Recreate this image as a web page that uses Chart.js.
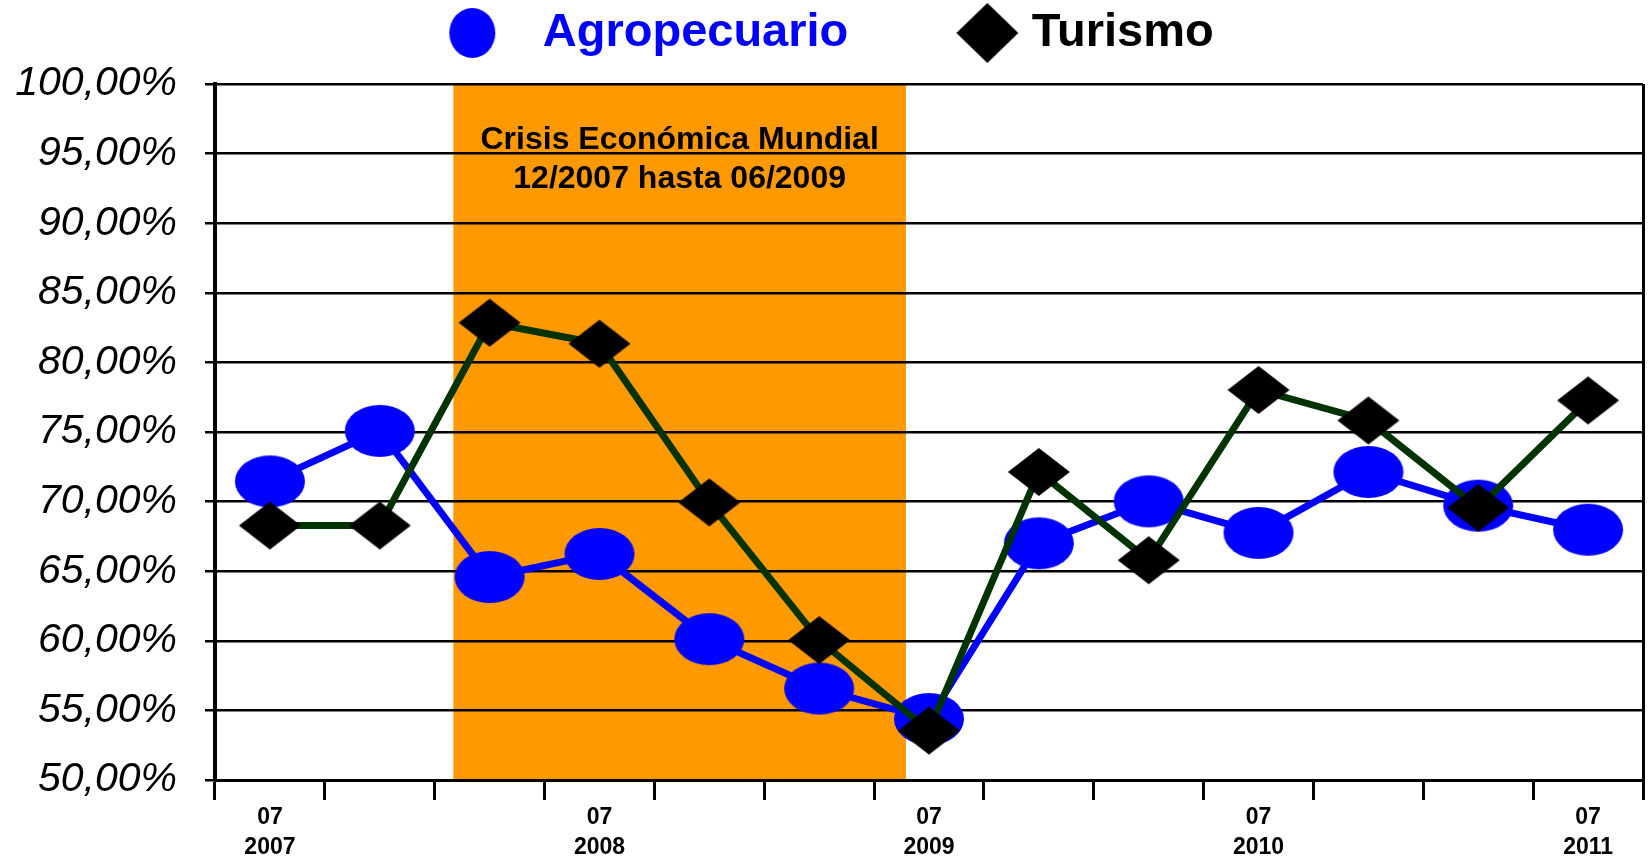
<!DOCTYPE html>
<html>
<head>
<meta charset="utf-8">
<title>Agropecuario vs Turismo</title>
<script src="https://cdn.jsdelivr.net/npm/chart.js@4"></script>
<style>
  html, body { margin: 0; padding: 0; background: #fff; }
  canvas { display: block; }
</style>
</head>
<body>
<canvas id="chart" width="1648" height="865"></canvas>
<script>
// Periods every 4 months (MM/YYYY)
const periods = ['07/2007', '11/2007', '03/2008', '07/2008', '11/2008', '03/2009', '07/2009',
                 '11/2009', '03/2010', '07/2010', '11/2010', '03/2011', '07/2011'];

const agropecuario = [71.45, 75.08, 64.58, 66.24, 60.12, 56.57, 54.38, 67.0, 70.02, 67.75, 72.13, 69.71, 67.98];
const turismo      = [68.28, 68.28, 82.85, 81.34, 69.94, 60.05, 53.55, 72.13, 65.79, 78.02, 75.83, 69.56, 77.27];

const seriesNames = ['Agropecuario', 'Turismo'];

// crisis band, in category index units (12/2007 .. 06/2009)
const crisisFrom = 1.67;
const crisisTo = 5.79;
const crisisText = ['Crisis Económica Mundial', '12/2007 hasta 06/2009'];

const FONT = "'Liberation Sans', Arial, sans-serif";

// Marker images: ellipse and diamond, optionally shifted inside the image
function ellipseImg(w, h, rx, ry, color, dx) {
    const c = document.createElement('canvas');
    c.width = w; c.height = h;
    const g = c.getContext('2d');
    g.fillStyle = color;
    g.beginPath();
    g.ellipse(w / 2 + (dx || 0), h / 2, rx, ry, 0, 0, Math.PI * 2);
    g.fill();
    return c;
}

function diamondImg(w, h, hx, hy, color, dx) {
    const c = document.createElement('canvas');
    c.width = w; c.height = h;
    const g = c.getContext('2d');
    const cx = w / 2 + (dx || 0), cy = h / 2;
    g.fillStyle = color;
    g.beginPath();
    g.moveTo(cx, cy - hy);
    g.lineTo(cx + hx, cy);
    g.lineTo(cx, cy + hy);
    g.lineTo(cx - hx, cy);
    g.closePath();
    g.fill();
    return c;
}

const circleMark = ellipseImg(74, 56, 35, 26, '#0000FF');
const diamondMark = diamondImg(66, 52, 31, 24, '#000000');
const legendMarks = [
    ellipseImg(60, 56, 23, 25, '#0000FF', -2),
    diamondImg(124, 64, 31, 30, '#000000', 24)
];
const legendColors = ['#0000FF', '#000000'];

const crisisBand = {
    id: 'crisisBand',
    beforeDraw(chart) {
        const { ctx, chartArea, scales } = chart;
        const x = scales.x;
        const x0 = x.getPixelForValue(crisisFrom);
        const x1 = x.getPixelForValue(crisisTo);
        ctx.save();
        ctx.fillStyle = '#FF9900';
        ctx.fillRect(x0, chartArea.top, x1 - x0, chartArea.bottom - chartArea.top);
        ctx.restore();
    },
    afterDraw(chart) {
        const { ctx, scales } = chart;
        const x = scales.x;
        const cx = (x.getPixelForValue(crisisFrom) + x.getPixelForValue(crisisTo)) / 2;
        ctx.save();
        ctx.fillStyle = '#000';
        ctx.font = 'bold 32px ' + FONT;
        ctx.textAlign = 'center';
        ctx.textBaseline = 'middle';
        ctx.fillText(crisisText[0], cx, 140);
        ctx.fillText(crisisText[1], cx, 179);
        ctx.restore();
    }
};

new Chart(document.getElementById('chart'), {
    type: 'line',
    data: {
        labels: periods,
        datasets: [{
            label: seriesNames[0],
            data: agropecuario,
            borderColor: '#0000FF',
            backgroundColor: '#0000FF',
            borderWidth: 7,
            pointStyle: circleMark,
            pointRadius: 30,
            order: 1
        }, {
            label: seriesNames[1],
            data: turismo,
            borderColor: '#003300',
            backgroundColor: '#000000',
            borderWidth: 7,
            pointStyle: diamondMark,
            pointRadius: 28,
            order: 0
        }]
    },
    options: {
        responsive: false,
        animation: false,
        layout: { autoPadding: false, padding: { top: -60.5, right: 5, left: 0, bottom: 0 } },
        plugins: {
            tooltip: { enabled: false },
            // empty title used only as a gap between legend and plot
            title: {
                display: true,
                text: '',
                weight: 500,
                font: { size: 10, lineHeight: 1 },
                padding: { top: 0, bottom: 7.5 }
            },
            legend: {
                position: 'top',
                align: 'center',
                weight: 1000,
                labels: {
                    usePointStyle: true,
                    pointStyleWidth: 90,
                    padding: 70,
                    font: { family: FONT, size: 47, weight: 'bold' },
                    generateLabels: chart => chart.data.datasets.map((ds, i) => ({
                        text: ds.label,
                        fillStyle: ds.backgroundColor,
                        strokeStyle: ds.backgroundColor,
                        lineWidth: 0,
                        pointStyle: legendMarks[i],
                        fontColor: legendColors[i],
                        hidden: !chart.isDatasetVisible(i),
                        datasetIndex: i
                    }))
                }
            }
        },
        scales: {
            x: {
                type: 'category',
                offset: true,
                grid: {
                    offset: true,
                    drawOnChartArea: true,
                    color: ctx => ctx.type === 'tick' ? 'rgba(0,0,0,0)' : '#000',
                    tickColor: '#000',
                    lineWidth: 3,
                    tickLength: 20
                },
                border: { display: true, color: '#000', width: 3 },
                ticks: {
                    autoSkip: false,
                    maxRotation: 0,
                    padding: 3,
                    color: '#000',
                    font: { family: FONT, size: 23, weight: 'bold', lineHeight: 1.3 },
                    callback: (value, index) => {
                        const [m, y] = periods[index].split('/');
                        return m === '07' ? [m, y] : '';
                    }
                },
                afterFit: scale => { scale.height = 85; }
            },
            y: {
                min: 50,
                max: 100,
                grid: { color: '#000', lineWidth: 2.5, tickLength: 10 },
                border: { display: true, color: '#000', width: 4 },
                ticks: {
                    stepSize: 5,
                    padding: 28,
                    color: '#000',
                    font: { family: FONT, size: 41, style: 'italic' },
                    callback: v => v.toFixed(2).replace('.', ',') + '%'
                },
                afterFit: scale => { scale.width = 215; scale.paddingTop = 84; }
            }
        }
    },
    plugins: [crisisBand]
});
</script>
</body>
</html>
